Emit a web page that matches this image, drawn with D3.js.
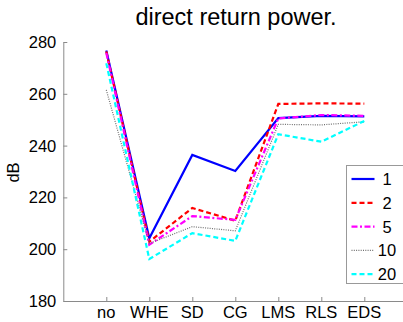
<!DOCTYPE html>
<html>
<head>
<meta charset="utf-8">
<script src="https://cdn.jsdelivr.net/npm/d3@7"></script>
<style>
  html, body { margin: 0; padding: 0; background: #fff; overflow: hidden; }
  svg { display: block; font-family: "Liberation Sans", Arial, sans-serif; }
</style>
</head>
<body>
<svg id="chart" width="403" height="322"></svg>
<script>
// Methods along the x axis
const methods = ["no", "WHE", "SD", "CG", "LMS", "RLS", "EDS"];

// Returned power (dB) per method, one array per setting
const series1  = [276.7, 204.2, 236.4, 230.2, 250.6, 251.5, 251.3];
const series2  = [276.3, 202.9, 215.9, 211.0, 256.1, 256.3, 256.2];
const series5  = [275.8, 201.7, 212.8, 211.3, 250.5, 251.8, 251.5];
const series10 = [261.5, 202.2, 208.7, 207.1, 248.2, 248.0, 249.2];
const series20 = [271.8, 196.2, 206.2, 203.2, 244.4, 241.5, 249.5];

const legendLabels = ["1", "2", "5", "10", "20"];
const yTicks = [180, 200, 220, 240, 260, 280];

const styles = [
  { color: "#0000ff", width: 2.2, dash: null },
  { color: "#ff0000", width: 2.2, dash: "5,3" },
  { color: "#ff00ff", width: 2.2, dash: "6,2.5,2,2.5" },
  { color: "#6f6f6f", width: 1.2, dash: "1,1.3" },
  { color: "#00ffff", width: 2.2, dash: "5,3" }
];
const allSeries = [series1, series2, series5, series10, series20];

const svg = d3.select("#chart");
const axisColor = "#8a8a8a";

// Axes box: x runs 0..8 with methods at 1..7, right end falls past the canvas
const x = d3.scaleLinear().domain([0, 8]).range([63.3, 407.3]);
const y = d3.scaleLinear().domain([180, 280]).range([301, 42]);

// Title
svg.append("text")
  .attr("x", 236).attr("y", 25)
  .attr("text-anchor", "middle")
  .attr("font-size", 23.5)
  .attr("fill", "#000")
  .text("direct return power.");

// Y axis (ticks pointing inward)
const yAxis = svg.append("g")
  .attr("transform", `translate(${x(0)},0)`)
  .call(d3.axisRight(y).tickValues(yTicks).tickSize(4).tickSizeOuter(0).tickFormat(""));
yAxis.select(".domain").attr("stroke", axisColor);
yAxis.selectAll(".tick line").attr("stroke", axisColor);

svg.append("g").selectAll("text")
  .data(yTicks)
  .join("text")
  .attr("x", x(0) - 7)
  .attr("y", d => y(d))
  .attr("dy", "0.36em")
  .attr("text-anchor", "end")
  .attr("font-size", 16.5)
  .attr("fill", "#000")
  .text(d => d);

// Y label
svg.append("text")
  .attr("transform", `translate(19,172.5) rotate(-90)`)
  .attr("text-anchor", "middle")
  .attr("font-size", 16.5)
  .attr("fill", "#000")
  .text("dB");

// X axis (ticks pointing inward)
const xAxis = svg.append("g")
  .attr("transform", `translate(0,${y(180)})`)
  .call(d3.axisTop(x).tickValues(d3.range(1, methods.length + 1)).tickSize(4).tickSizeOuter(0).tickFormat(""));
xAxis.select(".domain").attr("stroke", axisColor);
xAxis.selectAll(".tick line").attr("stroke", axisColor);

svg.append("g").selectAll("text")
  .data(methods)
  .join("text")
  .attr("x", (d, i) => x(i + 1))
  .attr("y", 318)
  .attr("text-anchor", "middle")
  .attr("font-size", 16.5)
  .attr("fill", "#000")
  .text(d => d);

// Lines
const line = d3.line()
  .x((d, i) => x(i + 1))
  .y(d => y(d));

svg.append("g").selectAll("path")
  .data(allSeries)
  .join("path")
  .attr("d", d => line(d))
  .attr("fill", "none")
  .attr("stroke", (d, i) => styles[i].color)
  .attr("stroke-width", (d, i) => styles[i].width)
  .attr("stroke-dasharray", (d, i) => styles[i].dash)
  .attr("stroke-linejoin", "miter");

// Legend
const legend = svg.append("g");
legend.append("rect")
  .attr("x", 346.5).attr("y", 165.5)
  .attr("width", 70).attr("height", 118)
  .attr("fill", "#fff")
  .attr("stroke", "#999")
  .attr("stroke-width", 1);

const rows = legend.selectAll("g.row")
  .data(legendLabels)
  .join("g")
  .attr("class", "row")
  .attr("transform", (d, i) => `translate(0,${179 + i * 23.8})`);

rows.append("line")
  .attr("x1", 351.5).attr("x2", 374.5)
  .attr("y1", 0).attr("y2", 0)
  .attr("stroke", (d, i) => styles[i].color)
  .attr("stroke-width", (d, i) => styles[i].width)
  .attr("stroke-dasharray", (d, i) => styles[i].dash);

rows.append("text")
  .attr("x", 387)
  .attr("y", 0)
  .attr("dy", "0.36em")
  .attr("text-anchor", "middle")
  .attr("font-size", 16.5)
  .attr("fill", "#000")
  .text(d => d);
</script>
</body>
</html>
